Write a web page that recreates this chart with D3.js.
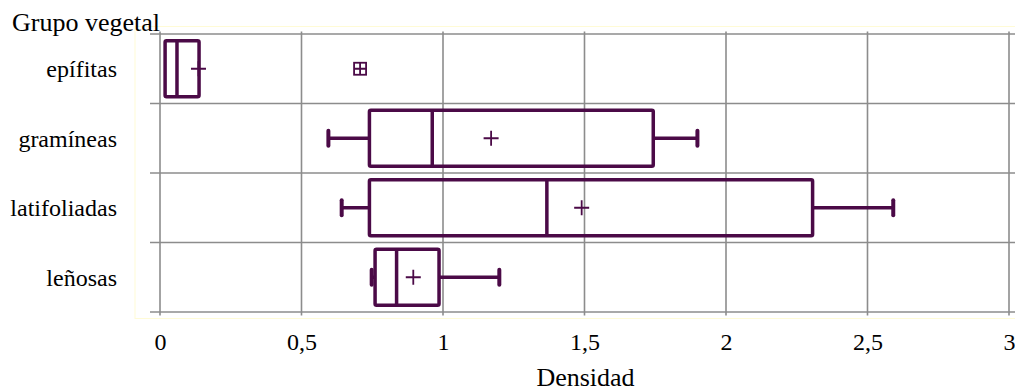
<!DOCTYPE html>
<html>
<head>
<meta charset="utf-8">
<script src="https://cdn.jsdelivr.net/npm/d3@7"></script>
<style>
  html, body { margin: 0; padding: 0; background: #fff; }
  svg { display: block; }
  text { font-family: "Liberation Serif", "Times New Roman", serif; fill: #000; }
</style>
</head>
<body>
<svg id="chart" width="1015" height="391"></svg>
<script>
const categories = ["epífitas", "gramíneas", "latifoliadas", "leñosas"];
const mins    = [0.018, 0.595, 0.642, 0.748];
const q1s     = [0.018, 0.740, 0.740, 0.760];
const medians = [0.060, 0.962, 1.367, 0.836];
const q3s     = [0.138, 1.743, 2.306, 0.986];
const maxs    = [0.138, 1.899, 2.591, 1.199];
const means   = [0.136, 1.170, 1.490, 0.895];
const outlierCats   = ["epífitas"];
const outlierValues = [0.707];
const xTicks = [0, 0.5, 1, 1.5, 2, 2.5, 3];
const yTitle = "Grupo vegetal";
const xTitle = "Densidad";

(function () {
const W = 1015, H = 391;
const mLeft = 160, mRight = 1009, mTop = 34, mBottom = 312;
const purple = "#4b0a47";
const grid = "#8c8c8c";
const fontSize = 24;
const titleSize = 26;
const serif = "'Liberation Serif', 'Times New Roman', serif";

const svg = d3.select("#chart");
const x = d3.scaleLinear().domain([0, 3]).range([mLeft, mRight]);
const y = d3.scaleBand().domain(categories).range([mTop, mBottom]).padding(0);
const loc = d3.formatLocale({decimal: ",", thousands: ".", grouping: [3], currency: ["", ""]});
const fmt = loc.format("~g");

// faint plot-area border
svg.append("rect")
  .attr("x", 135).attr("y", 26.5).attr("width", W).attr("height", 292)
  .attr("fill", "none").attr("stroke", "#fffbd6").attr("stroke-width", 1);

// horizontal gridlines (band boundaries)
const hLines = categories.map(c => y(c)).concat([mBottom]);
svg.append("g").selectAll("line").data(hLines).join("line")
  .attr("x1", 150).attr("x2", W)
  .attr("y1", d => d).attr("y2", d => d)
  .attr("stroke", grid).attr("stroke-width", 1.6);

// x axis with vertical gridlines
const xAxis = d3.axisBottom(x).tickValues(xTicks).tickFormat(fmt)
  .tickSize(0).tickPadding(21);
const gx = svg.append("g").attr("transform", `translate(0,${mBottom})`).call(xAxis)
  .attr("font-family", serif);
gx.select(".domain").remove();
gx.selectAll("text").style("font-size", fontSize + "px").style("font-family", serif);
svg.append("g").selectAll("line").data(xTicks).join("line")
  .attr("x1", d => x(d)).attr("x2", d => x(d))
  .attr("y1", 31.5).attr("y2", mBottom + 3.5)
  .attr("stroke", grid).attr("stroke-width", 1.6);

// y axis labels
const yAxis = d3.axisLeft(y).tickSize(0).tickPadding(43);
const gy = svg.append("g").attr("transform", `translate(${mLeft},0)`).call(yAxis)
  .attr("font-family", serif);
gy.select(".domain").remove();
gy.selectAll("text").style("font-size", fontSize + "px").style("font-family", serif)
  .attr("dy", "0.36em");

// titles
svg.append("text").attr("x", 12).attr("y", 31).style("font-size", titleSize + "px")
  .style("font-family", serif).text(yTitle);
svg.append("text").attr("x", (mLeft + mRight) / 2 + 1).attr("y", 386).attr("text-anchor", "middle")
  .style("font-size", titleSize + "px").style("font-family", serif).text(xTitle);

// boxes
const boxH = 56;
const g = svg.append("g");
categories.forEach((c, i) => {
  const cy = y(c) + y.bandwidth() / 2;
  const gb = g.append("g").attr("stroke", purple).attr("fill", "none");
  if (mins[i] < q1s[i]) {
    gb.append("line").attr("x1", x(mins[i])).attr("x2", x(q1s[i])).attr("y1", cy).attr("y2", cy).attr("stroke-width", 3.5);
    gb.append("line").attr("x1", x(mins[i])).attr("x2", x(mins[i])).attr("y1", cy - 7.5).attr("y2", cy + 7.5)
      .attr("stroke-width", 4).attr("stroke-linecap", "round");
  }
  if (maxs[i] > q3s[i]) {
    gb.append("line").attr("x1", x(q3s[i])).attr("x2", x(maxs[i])).attr("y1", cy).attr("y2", cy).attr("stroke-width", 3.5);
    gb.append("line").attr("x1", x(maxs[i])).attr("x2", x(maxs[i])).attr("y1", cy - 7.5).attr("y2", cy + 7.5)
      .attr("stroke-width", 4).attr("stroke-linecap", "round");
  }
  gb.append("rect").attr("x", x(q1s[i])).attr("y", cy - boxH / 2)
    .attr("width", x(q3s[i]) - x(q1s[i])).attr("height", boxH)
    .attr("stroke-width", 3.5).attr("rx", 1.5);
  gb.append("line").attr("x1", x(medians[i])).attr("x2", x(medians[i]))
    .attr("y1", cy - boxH / 2).attr("y2", cy + boxH / 2).attr("stroke-width", 3.5);
  const mx = x(means[i]);
  gb.append("path").attr("d", `M${mx - 7.5},${cy}H${mx + 7.5}M${mx},${cy - 7.5}V${cy + 7.5}`)
    .attr("stroke-width", 1.8);
});

// outliers
outlierCats.forEach((c, i) => {
  const cy = y(c) + y.bandwidth() / 2;
  const ox = x(outlierValues[i]);
  const s = 6;
  g.append("rect").attr("x", ox - s).attr("y", cy - s).attr("width", 2 * s).attr("height", 2 * s)
    .attr("fill", "none").attr("stroke", purple).attr("stroke-width", 1.8);
  g.append("path").attr("d", `M${ox - s},${cy}H${ox + s}M${ox},${cy - s}V${cy + s}`)
    .attr("fill", "none").attr("stroke", purple).attr("stroke-width", 1.8);
});
})();
</script>
</body>
</html>
